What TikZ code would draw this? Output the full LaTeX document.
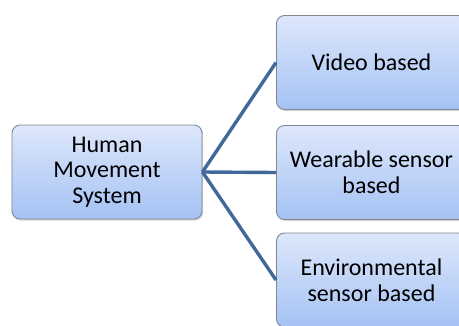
\documentclass[tikz,border=0pt]{standalone}
\usepackage{fontspec}
\setmainfont{Carlito}
\usetikzlibrary{positioning,shadows}

\definecolor{boxtop}{HTML}{DDE7FB}
\definecolor{boxbottom}{HTML}{A5C2F4}
\definecolor{boxline}{HTML}{7F8790}
\definecolor{linkblue}{HTML}{41689A}

\tikzset{
    catbox/.style={draw=boxline, line width=0.9bp, rounded corners=8bp,
        top color=boxtop, bottom color=boxbottom,
        minimum width=190bp, minimum height=94bp, inner sep=1bp,
        align=center, font=\fontsize{24bp}{25.5bp}\selectfont,
        drop shadow={shadow xshift=1.2bp, shadow yshift=-1.5bp, opacity=0.35}},
    link/.style={draw=linkblue, line width=3.4bp}
}

\begin{document}
\begin{tikzpicture}[x=1bp, y=1bp]
    \useasboundingbox (0,0) rectangle (459,325);

    % Root and its three branches
    \node [catbox] (hms) at (107,153) {Human\\Movement\\System};
    \node [catbox, anchor=west] (wearable) at (276,152.5) {Wearable sensor\\based};
    \node [catbox, anchor=west] (video) at (276,262.5) {Video based};
    \node [catbox, anchor=west] (environ) at (276,45) {Environmental\\sensor based};

    % Connectors
    \draw [link] (hms.east) -- (video.west);
    \draw [link] (hms.east) -- (wearable.west);
    \draw [link] (hms.east) -- (environ.west);
\end{tikzpicture}
\end{document}
